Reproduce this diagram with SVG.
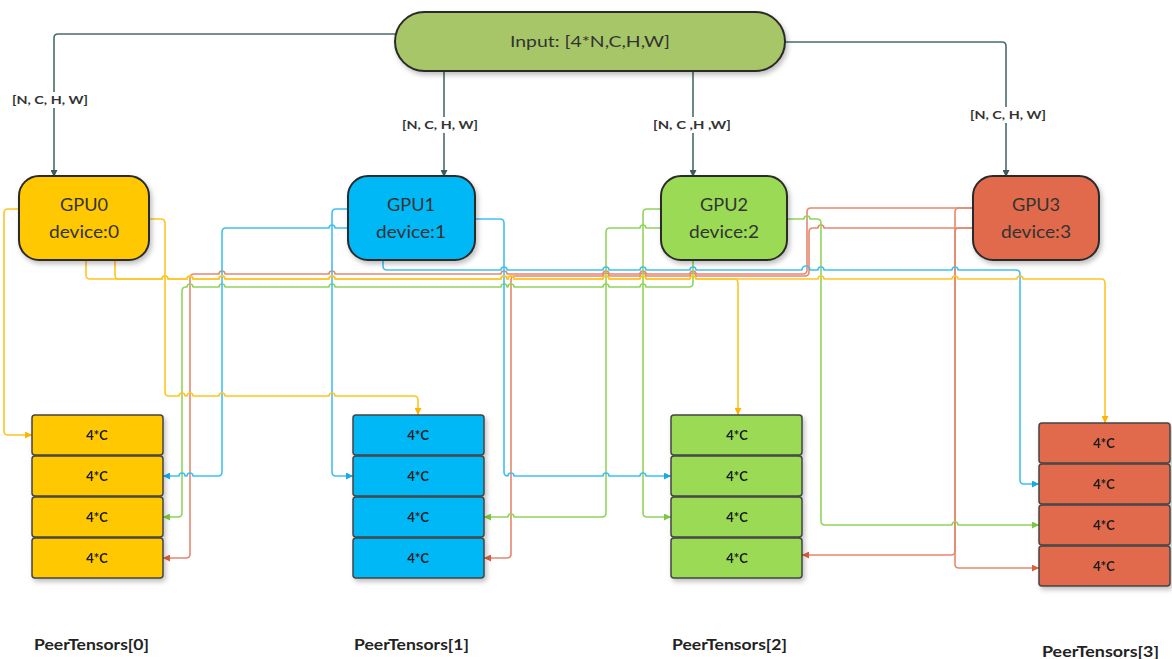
<svg xmlns="http://www.w3.org/2000/svg" width="1172" height="659" viewBox="0 0 1172 659">
<style>
.t{font-family:Lato,"Open Sans","Liberation Sans",sans-serif;fill:#333;text-anchor:middle}
.gpu{font-size:17px}
.lbl{font-size:12px;font-weight:bold}
.cell{font-size:13px;font-weight:bold;fill:#1a1a1a}
.peer{font-size:15px;font-weight:bold;fill:#222;text-anchor:start}
.node{stroke:#2a2a2a;stroke-width:2}
.row{stroke:#444;stroke-width:1.5}
.c{fill:none;stroke-width:1.6;stroke-linejoin:round}
.in{stroke:#4a6b6b}
.y{stroke:#ffc524}.b{stroke:#40c0f2}.g{stroke:#90d45c}.r{stroke:#e5886f}
</style>
<defs>
<filter id="sh" x="-10%" y="-10%" width="130%" height="140%"><feDropShadow dx="2" dy="3" stdDeviation="2.5" flood-color="#000" flood-opacity="0.25"/></filter>
<marker id="ai" viewBox="0 0 8 8" refX="8" refY="4" markerWidth="7" markerHeight="7" orient="auto" markerUnits="userSpaceOnUse"><path d="M0,0L8,4L0,8z" fill="#3d5a5a"/></marker>
<marker id="ay" viewBox="0 0 8 8" refX="8" refY="4" markerWidth="7" markerHeight="7" orient="auto" markerUnits="userSpaceOnUse"><path d="M0,0L8,4L0,8z" fill="#ffb400"/></marker>
<marker id="ab" viewBox="0 0 8 8" refX="8" refY="4" markerWidth="7" markerHeight="7" orient="auto" markerUnits="userSpaceOnUse"><path d="M0,0L8,4L0,8z" fill="#1aa8e8"/></marker>
<marker id="ag" viewBox="0 0 8 8" refX="8" refY="4" markerWidth="7" markerHeight="7" orient="auto" markerUnits="userSpaceOnUse"><path d="M0,0L8,4L0,8z" fill="#7cc840"/></marker>
<marker id="ar" viewBox="0 0 8 8" refX="8" refY="4" markerWidth="7" markerHeight="7" orient="auto" markerUnits="userSpaceOnUse"><path d="M0,0L8,4L0,8z" fill="#d9603f"/></marker>
</defs>
<rect width="1172" height="659" fill="#fff"/>

<g id="connectors">
<!-- input connectors -->
<path class="c in" d="M395,34 H58 Q54,34 54,38 V177" marker-end="url(#ai)"/>
<path class="c in" d="M444,71 V177" marker-end="url(#ai)"/>
<path class="c in" d="M693,71 V177" marker-end="url(#ai)"/>
<path class="c in" d="M785,42 H1002 Q1006,42 1006,46 V177" marker-end="url(#ai)"/>
<!-- red -->
<path class="c r" d="M973,208 H811 Q807,208 807,212 V270 Q807,274 803,274 H696 a3,3 0 0 0 -6,0 H646 a3,3 0 0 0 -6,0 H609 a3,3 0 0 0 -6,0 H507 a3,3 0 0 0 -6,0 H335 a3,3 0 0 0 -6,0 H225 a3,3 0 0 0 -6,0 H194 Q190,274 190,278 V554 Q190,558 186,558 H163" marker-end="url(#ar)"/>
<path class="c r" d="M973,228 H824 a3,3 0 0 0 -6,0 H813 Q809,228 809,232 V272 Q809,276 805,276 H696 a3,3 0 0 0 -6,0 H646 a3,3 0 0 0 -6,0 H609 a3,3 0 0 0 -6,0 H515 Q511,276 511,280 V554 Q511,558 507,558 H484" marker-end="url(#ar)"/>
<path class="c r" d="M973,208 H959 Q955,208 955,212 V564 Q955,568 959,568 H1039" marker-end="url(#ar)"/>
<path class="c r" d="M973,228 H959 Q955,228 955,232 V551 Q955,555 951,555 H802" marker-end="url(#ar)"/>
<!-- green -->
<path class="c g" d="M660,209 H647 Q643,209 643,213 V513 Q643,517 647,517 H671" marker-end="url(#ag)"/>
<path class="c g" d="M660,228 H646 a3,3 0 0 0 -6,0 H610 Q606,228 606,232 V513 Q606,517 602,517 H514 a3,3 0 0 0 -6,0 H484" marker-end="url(#ag)"/>
<path class="c g" d="M787,219 H804 a3,3 0 0 1 6,0 H817 Q821,219 821,223 V521 Q821,525 825,525 H952 a3,3 0 0 1 6,0 H1039" marker-end="url(#ag)"/>
<path class="c g" d="M693,260 V283 Q693,287 689,287 H646 a3,3 0 0 0 -6,0 H609 a3,3 0 0 0 -6,0 H514 a3,3 0 0 0 -6,0 H507 a3,3 0 0 0 -6,0 H335 a3,3 0 0 0 -6,0 H225 a3,3 0 0 0 -6,0 H193 a3,3 0 0 0 -6,0 H186 Q182,287 182,291 V513 Q182,517 178,517 H163" marker-end="url(#ag)"/>
<!-- blue -->
<path class="c b" d="M348,209 H336 Q332,209 332,213 V472 Q332,476 336,476 H353" marker-end="url(#ab)"/>
<path class="c b" d="M348,228 H335 a3,3 0 0 0 -6,0 H226 Q222,228 222,232 V472 Q222,476 218,476 H193 a3,3 0 0 0 -6,0 H185 a3,3 0 0 0 -6,0 H163" marker-end="url(#ab)"/>
<path class="c b" d="M475,219 H500 Q504,219 504,223 V472 Q504,476 508,476 a3,3 0 0 1 6,0 H603 a3,3 0 0 1 6,0 H640 a3,3 0 0 1 6,0 H671" marker-end="url(#ab)"/>
<path class="c b" d="M383,260 V266 Q383,270 387,270 H501 a3,3 0 0 1 6,0 H603 a3,3 0 0 1 6,0 H640 a3,3 0 0 1 6,0 H690 a3,3 0 0 1 6,0 H802 a4,4 0 0 1 8,0 H818 a3,3 0 0 1 6,0 H952 a3,3 0 0 1 6,0 H1016 Q1020,270 1020,274 V480 Q1020,484 1024,484 H1039" marker-end="url(#ab)"/>
<!-- yellow -->
<path class="c y" d="M18,209 H8 Q4,209 4,213 V431 Q4,435 8,435 H32" marker-end="url(#ay)"/>
<path class="c y" d="M150,219 H161 Q165,219 165,223 V392 Q165,396 169,396 H179 a3,3 0 0 1 6,0 H187 a3,3 0 0 1 6,0 H219 a3,3 0 0 1 6,0 H329 a3,3 0 0 1 6,0 H414 Q418,396 418,400 V415" marker-end="url(#ay)"/>
<path class="c y" d="M86,260 V275 Q86,279 90,279 H162 a3,3 0 0 1 6,0 H187 a3,3 0 0 1 6,0 H219 a3,3 0 0 1 6,0 H329 a3,3 0 0 1 6,0 H501 a3,3 0 0 1 6,0 H508 a3,3 0 0 1 6,0 H603 a3,3 0 0 1 6,0 H640 a3,3 0 0 1 6,0 H690 a3,3 0 0 1 6,0 H734 Q738,279 738,283 V415" marker-end="url(#ay)"/>
<path class="c y" d="M115,260 V275 Q115,279 119,279 H162 a3,3 0 0 1 6,0 H187 a3,3 0 0 1 6,0 H219 a3,3 0 0 1 6,0 H329 a3,3 0 0 1 6,0 H501 a3,3 0 0 1 6,0 H508 a3,3 0 0 1 6,0 H603 a3,3 0 0 1 6,0 H640 a3,3 0 0 1 6,0 H690 a3,3 0 0 1 6,0 H818 a3,3 0 0 1 6,0 H952 a3,3 0 0 1 6,0 H1017 a3,3 0 0 1 6,0 H1101 Q1105,279 1105,283 V423" marker-end="url(#ay)"/>
</g>

<g id="edge-labels">
<rect x="11" y="92" width="78" height="16" fill="#fff"/>
<text class="t lbl" x="50" y="104" textLength="76" lengthAdjust="spacingAndGlyphs">[N, C, H, W]</text>
<rect x="401" y="117" width="78" height="16" fill="#fff"/>
<text class="t lbl" x="440" y="129" textLength="76" lengthAdjust="spacingAndGlyphs">[N, C, H, W]</text>
<rect x="652" y="117" width="80" height="16" fill="#fff"/>
<text class="t lbl" x="692" y="129" textLength="78" lengthAdjust="spacingAndGlyphs">[N, C ,H ,W]</text>
<rect x="969" y="107" width="78" height="16" fill="#fff"/>
<text class="t lbl" x="1008" y="119" textLength="76" lengthAdjust="spacingAndGlyphs">[N, C, H, W]</text>
</g>

<g id="input">
<rect class="node" x="395" y="12" width="390" height="59" rx="29.5" fill="#a6c667" filter="url(#sh)"/>
<text class="t" x="590" y="47" font-size="16" textLength="160" lengthAdjust="spacingAndGlyphs">Input: [4*N,C,H,W]</text>
</g>

<g id="gpu0">
<rect class="node" x="19" y="176" width="130" height="84" rx="20" fill="#ffc800" filter="url(#sh)"/>
<text class="t gpu" x="84" y="211" textLength="48" lengthAdjust="spacingAndGlyphs">GPU0</text>
<text class="t gpu" x="84" y="238" textLength="70" lengthAdjust="spacingAndGlyphs">device:0</text>
</g>
<g id="gpu1">
<rect class="node" x="348" y="176" width="127" height="84" rx="20" fill="#00b8f5" filter="url(#sh)"/>
<text class="t gpu" x="411" y="211" textLength="48" lengthAdjust="spacingAndGlyphs">GPU1</text>
<text class="t gpu" x="411" y="238" textLength="70" lengthAdjust="spacingAndGlyphs">device:1</text>
</g>
<g id="gpu2">
<rect class="node" x="661" y="176" width="126" height="84" rx="20" fill="#9ada55" filter="url(#sh)"/>
<text class="t gpu" x="724" y="211" textLength="48" lengthAdjust="spacingAndGlyphs">GPU2</text>
<text class="t gpu" x="724" y="238" textLength="70" lengthAdjust="spacingAndGlyphs">device:2</text>
</g>
<g id="gpu3">
<rect class="node" x="973" y="176" width="126" height="84" rx="20" fill="#e06a4b" filter="url(#sh)"/>
<text class="t gpu" x="1036" y="211" textLength="48" lengthAdjust="spacingAndGlyphs">GPU3</text>
<text class="t gpu" x="1036" y="238" textLength="70" lengthAdjust="spacingAndGlyphs">device:3</text>
</g>

<g id="peer0" filter="url(#sh)">
<rect class="row" x="32" y="415" width="131" height="40" rx="3" fill="#ffc800"/>
<rect class="row" x="32" y="456" width="131" height="40" rx="3" fill="#ffc800"/>
<rect class="row" x="32" y="497" width="131" height="40" rx="3" fill="#ffc800"/>
<rect class="row" x="32" y="538" width="131" height="40" rx="3" fill="#ffc800"/>
<text class="t cell" x="97" y="440">4*C</text>
<text class="t cell" x="97" y="481">4*C</text>
<text class="t cell" x="97" y="522">4*C</text>
<text class="t cell" x="97" y="563">4*C</text>
</g>
<g id="peer1" filter="url(#sh)">
<rect class="row" x="353" y="415" width="131" height="40" rx="3" fill="#00b8f5"/>
<rect class="row" x="353" y="456" width="131" height="40" rx="3" fill="#00b8f5"/>
<rect class="row" x="353" y="497" width="131" height="40" rx="3" fill="#00b8f5"/>
<rect class="row" x="353" y="538" width="131" height="40" rx="3" fill="#00b8f5"/>
<text class="t cell" x="418" y="440">4*C</text>
<text class="t cell" x="418" y="481">4*C</text>
<text class="t cell" x="418" y="522">4*C</text>
<text class="t cell" x="418" y="563">4*C</text>
</g>
<g id="peer2" filter="url(#sh)">
<rect class="row" x="671" y="415" width="131" height="40" rx="3" fill="#9ada55"/>
<rect class="row" x="671" y="456" width="131" height="40" rx="3" fill="#9ada55"/>
<rect class="row" x="671" y="497" width="131" height="40" rx="3" fill="#9ada55"/>
<rect class="row" x="671" y="538" width="131" height="40" rx="3" fill="#9ada55"/>
<text class="t cell" x="737" y="440">4*C</text>
<text class="t cell" x="737" y="481">4*C</text>
<text class="t cell" x="737" y="522">4*C</text>
<text class="t cell" x="737" y="563">4*C</text>
</g>
<g id="peer3" filter="url(#sh)">
<rect class="row" x="1039" y="423" width="131" height="40" rx="3" fill="#e06a4b"/>
<rect class="row" x="1039" y="464" width="131" height="40" rx="3" fill="#e06a4b"/>
<rect class="row" x="1039" y="505" width="131" height="40" rx="3" fill="#e06a4b"/>
<rect class="row" x="1039" y="546" width="131" height="40" rx="3" fill="#e06a4b"/>
<text class="t cell" x="1104" y="448">4*C</text>
<text class="t cell" x="1104" y="489">4*C</text>
<text class="t cell" x="1104" y="530">4*C</text>
<text class="t cell" x="1104" y="571">4*C</text>
</g>

<g id="peer-labels">
<text class="t peer" x="34" y="650" textLength="115" lengthAdjust="spacingAndGlyphs">PeerTensors[0]</text>
<text class="t peer" x="354" y="650" textLength="115" lengthAdjust="spacingAndGlyphs">PeerTensors[1]</text>
<text class="t peer" x="672" y="650" textLength="115" lengthAdjust="spacingAndGlyphs">PeerTensors[2]</text>
<text class="t peer" x="1042" y="657" textLength="117" lengthAdjust="spacingAndGlyphs">PeerTensors[3]</text>
</g>
</svg>
